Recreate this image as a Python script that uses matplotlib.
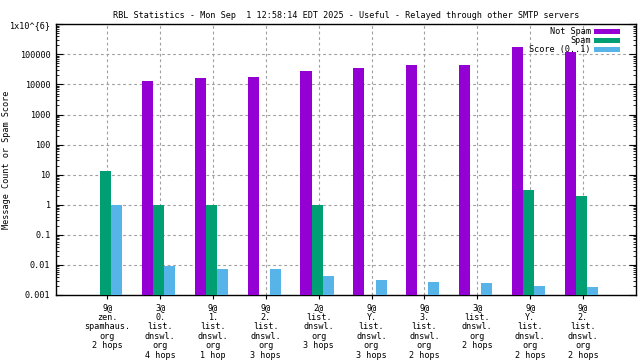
import numpy as np
import matplotlib
matplotlib.use("Agg")
import matplotlib.pyplot as plt
from matplotlib.patches import Patch
from matplotlib.ticker import LogLocator, FixedLocator, NullFormatter

# Data
categories = [
    "9@\nzen.\nspamhaus.\norg\n2 hops",
    "3@\n0.\nlist.\ndnswl.\norg\n4 hops",
    "9@\n1.\nlist.\ndnswl.\norg\n1 hop",
    "9@\n2.\nlist.\ndnswl.\norg\n3 hops",
    "2@\nlist.\ndnswl.\norg\n3 hops",
    "9@\nY.\nlist.\ndnswl.\norg\n3 hops",
    "9@\n3.\nlist.\ndnswl.\norg\n2 hops",
    "3@\nlist.\ndnswl.\norg\n2 hops",
    "9@\nY.\nlist.\ndnswl.\norg\n2 hops",
    "9@\n2.\nlist.\ndnswl.\norg\n2 hops",
]
not_spam = [0, 12600, 15800, 17100, 27000, 34000, 44000, 45000, 171000, 122000]
spam = [13.6, 1, 1, 0, 1, 0, 0, 0, 3.2, 2.0]
score = [1.0, 0.0095, 0.0075, 0.0071, 0.0044, 0.0032, 0.0028, 0.0026, 0.0020, 0.0019]

ytick_vals = [1e-3, 1e-2, 1e-1, 1, 10, 100, 1000, 10000, 100000, 1e6]
ytick_labels = ["0.001", "0.01", "0.1", "1", "10", "100", "1000", "10000", "100000", "1x10^{6}"]

title = "RBL Statistics - Mon Sep  1 12:58:14 EDT 2025 - Useful - Relayed through other SMTP servers"

plt.rcParams['font.family'] = ['DejaVu Sans Mono']
fs = 6.1
ymin = 1e-3

fig = plt.figure(figsize=(6.4, 3.6), dpi=100)
ax = fig.add_axes([0.0875, 0.1806, 0.906, 0.7519])

x = np.arange(len(categories))
w = 0.21
colors = ["#9400d3", "#009e73", "#56b4e9"]
names = ["Not Spam", "Spam", "Score (0..1)"]
for i, (vals, c) in enumerate(zip([not_spam, spam, score], colors)):
    v = np.array(vals, dtype=float)
    m = v > 0
    ax.bar(x[m] + (i - 1) * w - 0.03, v[m] - ymin, width=w, color=c, bottom=ymin, zorder=3)

ax.set_yscale("log")
ax.set_ylim(ymin, 1e6)
ax.set_xlim(-0.97, 10.0)

ax.yaxis.set_major_locator(FixedLocator(ytick_vals))
ax.set_yticks(ytick_vals)
ax.set_yticklabels(ytick_labels, fontsize=fs)
ax.yaxis.set_minor_locator(LogLocator(base=10, subs=np.arange(2, 10), numticks=20))
ax.yaxis.set_minor_formatter(NullFormatter())
ax.tick_params(axis="y", which="both", direction="in", left=True, right=True, pad=4)
ax.tick_params(axis="y", which="major", length=5, width=0.8)
ax.tick_params(axis="y", which="minor", length=2.5, width=0.6)

ax.set_xticks(x)
ax.set_xticklabels(categories, fontsize=fs, linespacing=1.07, va="top")
ax.tick_params(axis="x", which="both", direction="out", length=3, width=0.8, pad=3)

ax.grid(True, which="major", color="#a0a0a0", linestyle=(0, (2.5, 2.5)), linewidth=0.8, zorder=0)
ax.set_axisbelow(True)
for s in ax.spines.values():
    s.set_linewidth(1.0)

ax.set_ylabel("Message Count or Spam Score", fontsize=fs)
ax.yaxis.set_label_coords(-0.078, 0.5)
ax.set_title(title, fontsize=fs, pad=4.5)

handles = [Patch(facecolor=c, edgecolor="none") for c in colors]
leg = ax.legend(handles, names, loc="upper right", frameon=False, fontsize=fs,
                markerfirst=False, handlelength=3.0, handleheight=0.55,
                labelspacing=0.0, borderaxespad=0.0, borderpad=0.2,
                handletextpad=0.4, bbox_to_anchor=(0.975, 0.995))
leg.set_zorder(5)
for t in leg.get_texts():
    t.set_ha("right")

fig.savefig("out.png", dpi=100)
